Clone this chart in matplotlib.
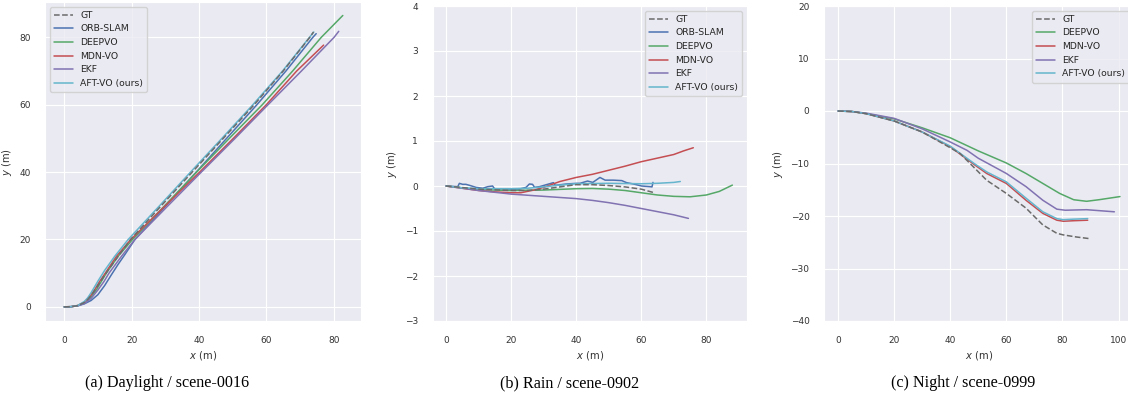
import matplotlib
matplotlib.use('Agg')
import matplotlib.pyplot as plt
import seaborn as sns

# ---- data (x, y in metres) ----
# (a) Daylight / scene-0016
a_gt_x = [0, 2, 4, 6, 7, 8, 9, 10, 12, 15, 19.7, 28.8, 38, 47.2, 56.4, 65, 72.9, 74]
a_gt_y = [0, 0.05, 0.35, 1.3, 2.2, 3.4, 4.8, 6.3, 9.4, 13.6, 20, 30, 40, 50, 60, 70, 80, 81.6]
a_orb_x = [0, 2, 4, 6, 8, 10, 12, 14, 16, 18, 21, 30.2, 39.2, 48.2, 57.2, 65.8, 73.8, 74.8]
a_orb_y = [0, 0.05, 0.3, 0.9, 1.9, 3.6, 6.3, 9.5, 12.6, 15.5, 20, 30, 40, 50, 60, 70, 80, 81.1]
a_deep_x = [0, 2, 4, 6, 8, 9.5, 11, 12.5, 16, 20.3, 29.8, 39.3, 49, 58.8, 67.8, 76.3, 82.7]
a_deep_y = [0, 0.05, 0.35, 1.2, 3, 5, 7.5, 10, 15, 20, 30, 40, 50, 60, 70, 80, 86.5]
a_mdn_x = [0, 2, 4, 6, 8, 9, 10.5, 12.2, 15.5, 19.8, 30, 40.2, 50.2, 60, 69, 77]
a_mdn_y = [0, 0.05, 0.4, 1.4, 3.5, 5, 7.5, 10, 15, 20, 30, 40, 50, 60, 70, 77.7]
a_ekf_x = [0, 2, 4, 6, 8, 10, 11.8, 13.3, 17, 21, 30.8, 40.7, 50.7, 60.5, 70.4, 80.1, 81.5]
a_ekf_y = [0, 0.05, 0.3, 1, 2.5, 5, 7.5, 10, 15, 20, 30, 40, 50, 60, 70, 80, 81.8]
a_aft_x = [0, 2, 4, 6, 7, 8, 9, 10, 12, 15, 19, 28.3, 37.5, 46.8, 56, 64.8, 72.8, 74.1]
a_aft_y = [0, 0.05, 0.4, 1.6, 2.7, 4.2, 5.9, 7.6, 10.8, 15, 20, 30, 40, 50, 60, 70, 80, 81.6]

# (b) Rain / scene-0902
b_gt_x = [0, 10, 20, 25, 30, 35, 40, 45, 50, 55, 60, 64]
b_gt_y = [0, -0.07, -0.1, -0.1, -0.07, -0.02, 0.03, 0.03, 0.01, -0.02, -0.07, -0.15]
b_orb_x = [0, 3.6, 4.1, 5.1, 6.1, 7.2, 9.2, 11.3, 12.8, 14.3, 14.9, 19.5, 22.5,
           24.6, 25.6, 26.6, 27.2, 28.7, 31.2, 33.0, 33.6, 36.9, 40.0, 41.2,
           43.5, 45.1, 47.3, 48.9, 51.4, 54.0, 55.5, 57.6, 60.1, 62.7, 63.3, 63.6]
b_orb_y = [0, -0.015, 0.059, 0.037, 0.037, 0.015, -0.03, -0.05, -0.015, 0.0,
           -0.06, -0.07, -0.07, -0.03, 0.044, 0.037, -0.03, -0.015, 0.037,
           0.074, 0.015, 0.044, 0.059, 0.06, 0.11, 0.08, 0.19, 0.13, 0.13,
           0.12, 0.074, 0.045, 0.0, -0.015, -0.02, 0.08]
b_deep_x = [0, 5, 10, 20, 30, 40, 45, 50, 55, 60, 65, 70, 75, 80, 84, 88]
b_deep_y = [0, -0.04, -0.08, -0.1, -0.09, -0.06, -0.055, -0.07, -0.1, -0.15,
            -0.2, -0.23, -0.24, -0.2, -0.12, 0.02]
b_mdn_x = [0, 5, 10, 15, 20, 23, 27, 30, 35, 40, 45, 50, 55, 60, 65, 70, 73, 76]
b_mdn_y = [0, -0.05, -0.1, -0.13, -0.15, -0.15, -0.09, -0.03, 0.1, 0.19, 0.26,
           0.35, 0.44, 0.54, 0.62, 0.7, 0.78, 0.85]
b_ekf_x = [0, 10, 20, 30, 40, 45, 50, 55, 60, 65, 70, 74.5]
b_ekf_y = [0, -0.1, -0.18, -0.23, -0.28, -0.32, -0.37, -0.43, -0.5, -0.57, -0.64, -0.72]
b_aft_x = [0, 5, 10, 20, 25, 30, 35, 40, 50, 60, 65, 70, 72]
b_aft_y = [0, -0.04, -0.06, -0.06, -0.05, -0.02, 0.02, 0.05, 0.06, 0.05, 0.06, 0.08, 0.1]

# (c) Night / scene-0999
c_gt_x = [0, 5, 10, 20, 30, 40, 43.5, 48, 53, 60, 67, 73, 78, 80.3, 85, 89.5]
c_gt_y = [0, -0.1, -0.5, -1.9, -4, -7, -8.1, -10.5, -13.2, -15.7, -18.5, -21.7,
          -23.3, -23.6, -24, -24.3]
c_deep_x = [0, 5, 10, 20, 30, 40, 50, 60, 67, 73, 79, 84, 88.6, 93, 100.5]
c_deep_y = [0, -0.1, -0.5, -1.5, -3.2, -5.1, -7.6, -9.9, -11.9, -13.8, -15.7,
            -16.9, -17.2, -16.9, -16.3]
c_mdn_x = [0, 5, 10, 20, 30, 40, 43.5, 48.8, 53, 60, 67, 73, 78, 80.3, 84, 89]
c_mdn_y = [0, -0.1, -0.5, -1.9, -4, -6.8, -8.2, -10.3, -11.9, -13.8, -17, -19.5,
           -20.8, -21.0, -20.9, -20.8]
c_ekf_x = [0, 5, 10, 20, 30, 40, 46, 50, 60, 67, 73, 78, 81, 88.6, 98.5]
c_ekf_y = [0, -0.1, -0.4, -1.4, -3.4, -5.9, -7.5, -9, -11.9, -14.4, -17, -18.7,
           -18.9, -18.8, -19.2]
c_aft_x = [0, 5, 10, 20, 30, 40, 48.8, 53, 60, 67, 73, 78, 80.3, 84, 89]
c_aft_y = [0, -0.1, -0.5, -1.9, -4, -6.7, -10.1, -11.6, -13.5, -16.6, -19.2,
           -20.5, -20.7, -20.6, -20.5]

captions = ['(a) Daylight / scene-0016', '(b) Rain / scene-0902',
            '(c) Night / scene-0999']

COLORS = {'GT': '#6b6b6b', 'ORB-SLAM': '#4c72b0', 'DEEPVO': '#55a868',
          'MDN-VO': '#c44e52', 'EKF': '#8172b2', 'AFT-VO (ours)': '#64b5cd'}

sns.set_style('darkgrid')
plt.rcParams['font.family'] = ['DejaVu Sans']
plt.rcParams['mathtext.fontset'] = 'dejavusans'
plt.rcParams['xtick.major.pad'] = 7
plt.rcParams['ytick.major.pad'] = 7


def plot_panel(ax, series, xlim, ylim, xticks, yticks, legend_loc):
    """ Draw one trajectory panel.
        series: list of (label, x, y)
    """
    for label, x, y in series:
        if label == 'GT':
            ax.plot(x, y, '--', color=COLORS[label], lw=1.1, label=label,
                    zorder=3)
        else:
            ax.plot(x, y, '-', color=COLORS[label], lw=1.1, label=label)
    ax.set_xlim(xlim)
    ax.set_ylim(ylim)
    ax.set_xticks(xticks)
    ax.set_yticks(yticks)
    ax.tick_params(labelsize=6.5, colors='.2')
    ax.set_xlabel('$x$ (m)', fontsize=7.2, color='.2', labelpad=3)
    ax.set_ylabel('$y$ (m)', fontsize=7.2, color='.2', labelpad=4)
    ax.legend(loc=legend_loc, fontsize=6.7, labelspacing=0.5,
              borderpad=0.45, handlelength=2.0, frameon=True)


W, H = 1128, 407
fig = plt.figure(figsize=(W / 100, H / 100), dpi=100)


def px_axes(left, right, top, bottom):
    return fig.add_axes([left / W, (H - bottom) / H,
                         (right - left) / W, (bottom - top) / H])


ax_a = px_axes(45.3, 361, 2, 321)
plot_panel(ax_a, [('GT', a_gt_x, a_gt_y), ('ORB-SLAM', a_orb_x, a_orb_y),
                  ('DEEPVO', a_deep_x, a_deep_y), ('MDN-VO', a_mdn_x, a_mdn_y),
                  ('EKF', a_ekf_x, a_ekf_y),
                  ('AFT-VO (ours)', a_aft_x, a_aft_y)],
           (-5.6, 88.1), (-4.2, 90.5), range(0, 81, 20), range(0, 81, 20),
           'upper left')

ax_b = px_axes(432.7, 747, 6, 321)
plot_panel(ax_b, [('GT', b_gt_x, b_gt_y), ('ORB-SLAM', b_orb_x, b_orb_y),
                  ('DEEPVO', b_deep_x, b_deep_y), ('MDN-VO', b_mdn_x, b_mdn_y),
                  ('EKF', b_ekf_x, b_ekf_y),
                  ('AFT-VO (ours)', b_aft_x, b_aft_y)],
           (-4.1, 92.5), (-3, 4), range(0, 81, 20), range(-3, 5),
           'upper right')

ax_c = px_axes(824, 1134, 6, 321)
plot_panel(ax_c, [('GT', c_gt_x, c_gt_y), ('DEEPVO', c_deep_x, c_deep_y),
                  ('MDN-VO', c_mdn_x, c_mdn_y), ('EKF', c_ekf_x, c_ekf_y),
                  ('AFT-VO (ours)', c_aft_x, c_aft_y)],
           (-5.0, 105.5), (-40, 20), range(0, 101, 20), range(-40, 21, 10),
           'upper right')

# sub-figure captions
for xc, text in zip([167, 570, 963], captions):
    fig.text(xc / W, (H - 383) / H, text, ha='center', va='center',
             fontsize=11.6, family='Liberation Serif', color='black')

fig.savefig('out.png', dpi=100, facecolor='white')
